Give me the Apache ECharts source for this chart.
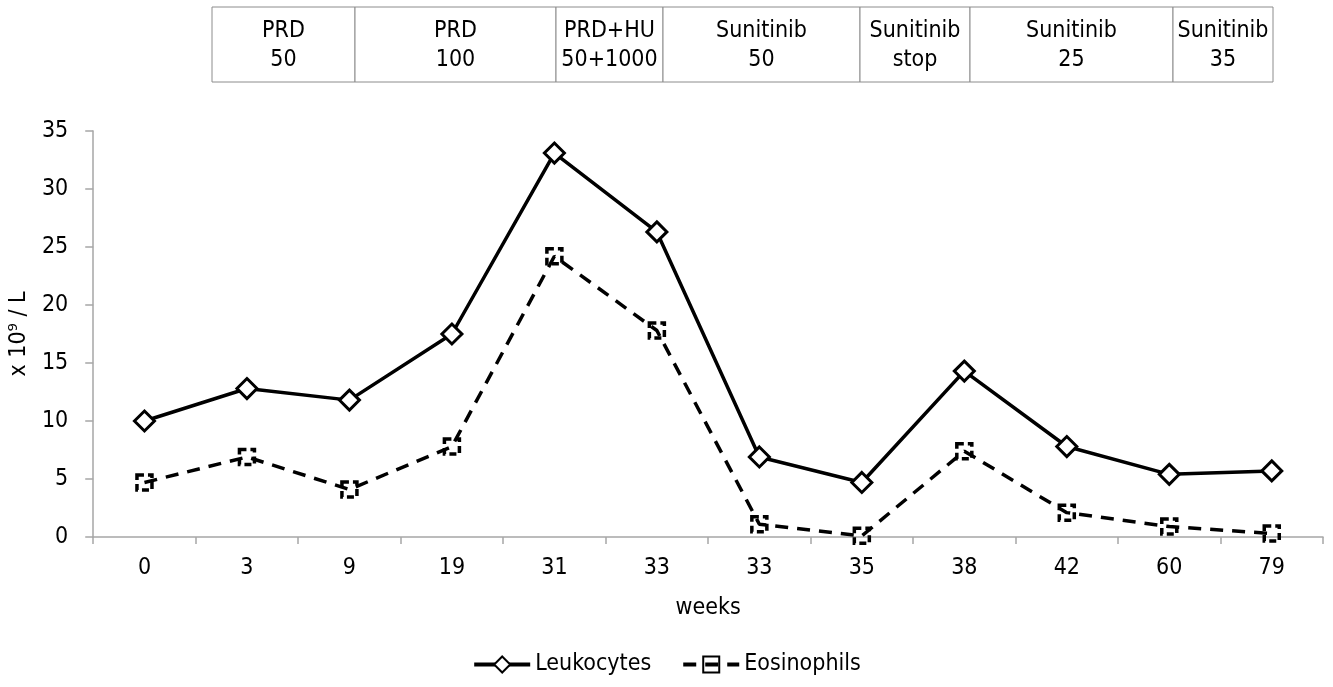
<!DOCTYPE html>
<html>
<head>
<meta charset="utf-8">
<script src="https://cdn.jsdelivr.net/npm/echarts@6/dist/echarts.min.js"></script>
<style>html,body{margin:0;padding:0;background:#fff}#c{width:1333px;height:687px}</style>
</head>
<body>
<div id="c"></div>
<script>
var categories = ['0','3','9','19','31','33','33','35','38','42','60','79'];
var leukocytes = [10.0, 12.8, 11.8, 17.5, 33.1, 26.3, 6.9, 4.7, 14.3, 7.8, 5.4, 5.7];
var eosinophils = [4.7, 6.9, 4.1, 7.8, 24.2, 17.8, 1.1, 0.1, 7.4, 2.1, 0.9, 0.3];
var treatmentLabels = ['PRD\n50', 'PRD\n100', 'PRD+HU\n50+1000', 'Sunitinib\n50', 'Sunitinib\nstop', 'Sunitinib\n25', 'Sunitinib\n35'];
var yTicks = [0, 5, 10, 15, 20, 25, 30, 35];

var FONT = "'DejaVu Sans Condensed', 'DejaVu Sans', sans-serif";
var colEdges = [212, 355, 556, 663, 860, 970, 1173, 1273];
var tableTop = 7, tableH = 75;
var graphics = [];
for (var i = 0; i < treatmentLabels.length; i++) {
  var x0 = colEdges[i], x1 = colEdges[i + 1];
  graphics.push({
    type: 'rect',
    shape: {x: x0, y: tableTop, width: x1 - x0, height: tableH},
    style: {fill: '#fff', stroke: '#8c8c8c', lineWidth: 1}
  });
  graphics.push({
    type: 'text',
    x: (x0 + x1) / 2, y: tableTop + tableH / 2 + 1,
    style: {text: treatmentLabels[i], font: '23px ' + FONT, fill: '#000', align: 'center', verticalAlign: 'middle', lineHeight: 29}
  });
}

var chart = echarts.init(document.getElementById('c'));
chart.setOption({
  animation: false,
  backgroundColor: '#fff',
  textStyle: {fontFamily: FONT},
  grid: {left: 88, right: 10, top: 131, bottom: 150, containLabel: false},
  graphic: graphics,
  legend: {
    bottom: 6, left: 'center',
    itemWidth: 56, itemHeight: 20, itemGap: 30,
    textStyle: {fontSize: 23, color: '#000', fontFamily: FONT},
    lineStyle: {width: 4},
    data: ['Leukocytes', 'Eosinophils']
  },
  xAxis: {
    type: 'category',
    data: categories,
    name: 'weeks',
    nameLocation: 'middle',
    nameGap: 60,
    nameTextStyle: {fontSize: 23, color: '#000', fontFamily: FONT},
    axisLine: {lineStyle: {color: '#a6a6a6', width: 1.5}},
    axisTick: {show: true, length: 7, lineStyle: {color: '#a6a6a6', width: 1.5}},
    axisLabel: {fontSize: 23, color: '#000', margin: 20, fontFamily: FONT},
    splitLine: {show: false}
  },
  yAxis: {
    type: 'value',
    min: 0, max: 35, interval: 5,
    name: 'x 10\u2079 / L',
    nameLocation: 'middle',
    nameGap: 58,
    nameTextStyle: {fontSize: 23, color: '#000', fontFamily: FONT},
    axisLine: {show: true, lineStyle: {color: '#a6a6a6', width: 1.5}},
    axisTick: {show: true, length: 8, lineStyle: {color: '#a6a6a6', width: 1.5}},
    axisLabel: {fontSize: 23, color: '#000', margin: 25, fontFamily: FONT,
      formatter: function (v) { return yTicks.indexOf(v) >= 0 ? String(v) : ''; }},
    splitLine: {show: false}
  },
  series: [
    {
      name: 'Leukocytes',
      type: 'line',
      data: leukocytes,
      symbol: 'diamond',
      symbolSize: 20,
      lineStyle: {color: '#000', width: 3.5},
      itemStyle: {color: '#fff', borderColor: '#000', borderWidth: 3}
    },
    {
      name: 'Eosinophils',
      type: 'line',
      data: eosinophils,
      symbol: 'rect',
      symbolSize: [15, 15],
      lineStyle: {color: '#000', width: 3.5, type: [13, 9]},
      itemStyle: {color: 'rgba(255,255,255,0)', borderColor: '#000', borderWidth: 3.5, borderType: [7, 4]}
    }
  ]
});
</script>
</body>
</html>
